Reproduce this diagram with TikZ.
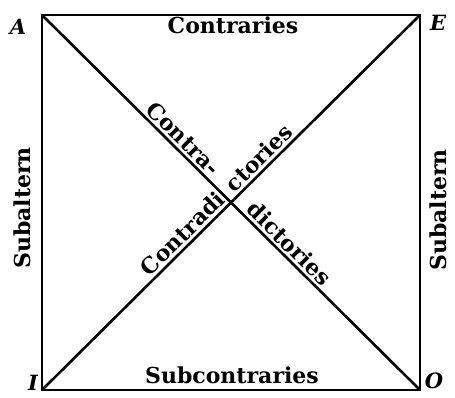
\documentclass[tikz,border=0pt]{standalone}
\usepackage{fontspec}
\setmainfont{DejaVu Serif}
\usetikzlibrary{positioning}
\begin{document}
\begin{tikzpicture}[x=1pt, y=-1pt,
    side/.style={line width=2.6pt},
    corner/.style={font=\bfseries\itshape\fontsize{21}{24}\selectfont, inner sep=0pt},
    rel/.style={font=\bfseries\fontsize{22}{26}\selectfont, inner sep=2.5pt}
]
\useasboundingbox (0,0) rectangle (455,398);
\coordinate (A) at (42,15);
\coordinate (E) at (420,15);
\coordinate (I) at (42,390);
\coordinate (O) at (420,390);

\draw[side] (A) -- (E) -- (O) -- (I) -- cycle;
\draw[side] (A) -- (O)
    node[rel, pos=0.447, sloped, anchor=south east] (contra) {Contra-}
    node[rel, pos=0.523, sloped, anchor=south west] (dictories) {dictories};
\draw[side] (I) -- (E)
    node[rel, pos=0.503, sloped, anchor=south east] (contradi) {Contradi}
    node[rel, pos=0.51, sloped, anchor=south west] (ctories) {ctories};

\node[rel, anchor=base] (contraries) at (233,34) {Contraries};
\node[rel, anchor=base] (subcontraries) at (232,383) {Subcontraries};
\node[rel, rotate=90] (subleft) at (22,208) {Subaltern};
\node[rel, rotate=90] (subright) at (438,210) {Subaltern};

\node[corner] (labA) at (18,27) {A};
\node[corner] (labE) at (438,23) {E};
\node[corner] (labI) at (33,383) {I};
\node[corner] (labO) at (434,381) {O};
\end{tikzpicture}
\end{document}
